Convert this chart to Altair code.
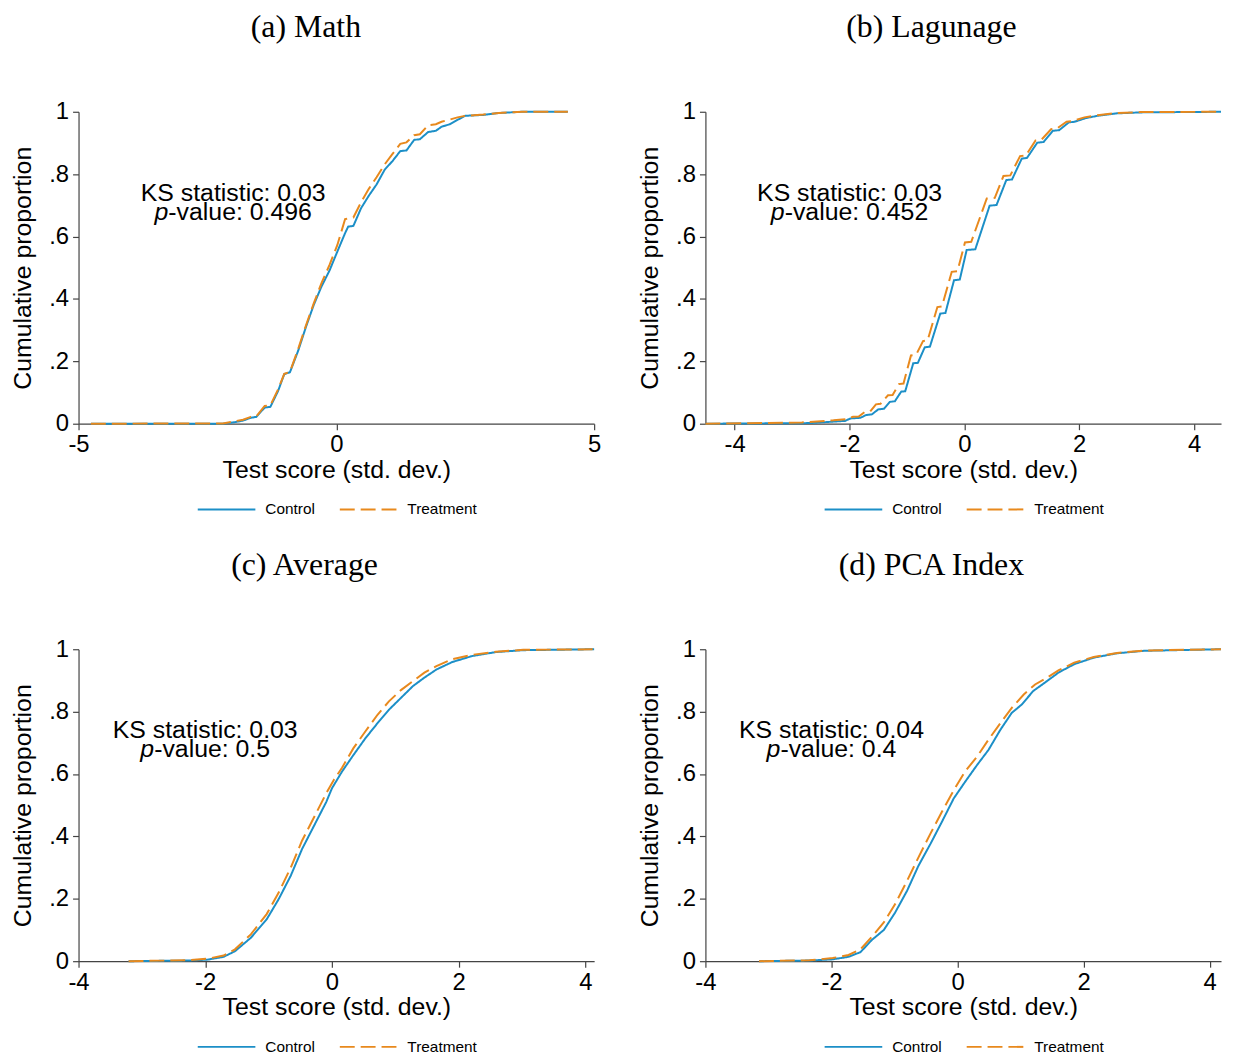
import altair as alt
import pandas as pd

# ---------------- data ----------------
TITLES = ["(a) Math", "(b) Lagunage", "(c) Average", "(d) PCA Index"]
KS_STAT = ["0.03", "0.03", "0.03", "0.04"]
P_VALUE = ["0.496", "0.452", "0.5", "0.4"]
GROUPS = ["Control", "Treatment"]
COLORS = ["#1c8fc7", "#e8891d"]

X_DOMAINS = [[-5, 5], [-4.51, 4.47], [-4, 4.14], [-4, 4.18]]
X_TICKS = [[-5, 0, 5], [-4, -2, 0, 2, 4], [-4, -2, 0, 2, 4], [-4, -2, 0, 2, 4]]
Y_TICKS = [0, 0.2, 0.4, 0.6, 0.8, 1]

# (a) Math
math_ctrl_x = [-4.76, -2.20, -1.97, -1.81, -1.66, -1.55, -1.39, -1.28, -1.13, -1.01, -0.90, -0.74, -0.59, -0.44,
               -0.29, -0.13, 0.02, 0.17, 0.23, 0.33, 0.48, 0.63, 0.78, 0.94, 1.09, 1.24, 1.36, 1.51, 1.62, 1.78,
               1.93, 2.04, 2.20, 2.35, 2.50, 2.85, 3.15, 3.61, 4.49]
math_ctrl_y = [0.0, 0.0, 0.005, 0.010, 0.019, 0.022, 0.052, 0.054, 0.105, 0.159, 0.165, 0.234, 0.310, 0.380,
               0.439, 0.492, 0.552, 0.611, 0.632, 0.634, 0.691, 0.731, 0.767, 0.815, 0.842, 0.874, 0.876, 0.910,
               0.912, 0.935, 0.939, 0.952, 0.960, 0.974, 0.987, 0.990, 0.996, 1.0, 1.0]
math_trt_x = [-4.76, -2.20, -1.97, -1.81, -1.66, -1.55, -1.39, -1.28, -1.13, -1.01, -0.90, -0.74, -0.59, -0.44,
              -0.29, -0.13, 0.02, 0.17, 0.33, 0.48, 0.63, 0.78, 0.94, 1.09, 1.24, 1.36, 1.51, 1.62, 1.78, 1.93,
              2.04, 2.20, 2.35, 2.50, 2.85, 3.15, 3.61, 4.49]
math_trt_y = [0.0, 0.001, 0.008, 0.013, 0.022, 0.024, 0.057, 0.059, 0.110, 0.160, 0.166, 0.240, 0.315, 0.385,
              0.450, 0.510, 0.573, 0.656, 0.661, 0.710, 0.753, 0.790, 0.832, 0.865, 0.897, 0.902, 0.925, 0.928,
              0.957, 0.960, 0.968, 0.975, 0.982, 0.987, 0.991, 0.996, 1.0, 1.0]

# (b) Language
lang_ctrl_x = [-4.51, -2.69, -2.08, -1.98, -1.81, -1.71, -1.61, -1.50, -1.40, -1.30, -1.21, -1.10, -1.03, -0.89,
               -0.81, -0.69, -0.60, -0.42, -0.33, -0.18, -0.08, 0.04, 0.19, 0.44, 0.56, 0.73, 0.83, 1.00, 1.09,
               1.27, 1.38, 1.54, 1.65, 1.82, 1.92, 2.12, 2.32, 2.66, 3.07, 4.47]
lang_ctrl_y = [0.0, 0.002, 0.009, 0.017, 0.019, 0.028, 0.030, 0.046, 0.048, 0.070, 0.072, 0.103, 0.104, 0.194,
               0.195, 0.245, 0.247, 0.353, 0.355, 0.460, 0.462, 0.557, 0.559, 0.699, 0.701, 0.781, 0.783, 0.850,
               0.852, 0.901, 0.903, 0.939, 0.941, 0.966, 0.968, 0.980, 0.987, 0.995, 0.998, 1.0]
lang_trt_x = [-4.51, -2.83, -2.28, -2.05, -1.94, -1.84, -1.74, -1.64, -1.54, -1.46, -1.33, -1.25, -1.14, -1.06,
              -0.93, -0.84, -0.72, -0.64, -0.47, -0.39, -0.22, -0.12, 0.01, 0.12, 0.39, 0.53, 0.68, 0.80, 0.97,
              1.07, 1.24, 1.34, 1.51, 1.61, 1.78, 1.88, 2.09, 2.32, 2.66, 3.07, 4.47]
lang_trt_y = [0.0, 0.004, 0.011, 0.015, 0.022, 0.023, 0.037, 0.039, 0.062, 0.064, 0.091, 0.092, 0.127, 0.129,
              0.219, 0.221, 0.265, 0.267, 0.374, 0.376, 0.487, 0.489, 0.581, 0.583, 0.722, 0.724, 0.794, 0.796,
              0.858, 0.860, 0.908, 0.910, 0.944, 0.946, 0.968, 0.970, 0.982, 0.989, 0.996, 0.999, 1.0]

# (c) Average
avg_ctrl_x = [-3.21, -2.27, -1.96, -1.71, -1.53, -1.28, -1.03, -0.84, -0.65, -0.47, -0.28, -0.09, 0.00, 0.16,
              0.34, 0.53, 0.72, 0.90, 1.09, 1.28, 1.46, 1.65, 1.90, 2.21, 2.59, 3.02, 4.14]
avg_ctrl_y = [0.0, 0.002, 0.005, 0.014, 0.032, 0.075, 0.134, 0.199, 0.274, 0.360, 0.435, 0.510, 0.554, 0.608,
              0.661, 0.715, 0.763, 0.806, 0.844, 0.882, 0.909, 0.935, 0.959, 0.978, 0.991, 0.997, 1.0]
avg_trt_x = [-3.21, -2.27, -1.96, -1.71, -1.53, -1.28, -1.03, -0.84, -0.65, -0.47, -0.28, -0.09, 0.03, 0.16,
             0.34, 0.53, 0.72, 0.90, 1.09, 1.28, 1.46, 1.65, 1.90, 2.21, 2.59, 3.02, 4.14]
avg_trt_y = [0.0, 0.003, 0.008, 0.018, 0.038, 0.086, 0.151, 0.220, 0.300, 0.387, 0.462, 0.538, 0.581, 0.620,
             0.683, 0.737, 0.790, 0.833, 0.869, 0.898, 0.925, 0.946, 0.968, 0.982, 0.992, 0.998, 1.0]

# (d) PCA index
pca_ctrl_x = [-3.15, -2.35, -1.98, -1.73, -1.54, -1.36, -1.17, -0.99, -0.80, -0.62, -0.43, -0.25, -0.06, 0.12,
              0.31, 0.49, 0.68, 0.86, 1.02, 1.20, 1.42, 1.60, 1.85, 2.16, 2.53, 2.96, 4.18]
pca_ctrl_y = [0.0, 0.002, 0.006, 0.014, 0.029, 0.068, 0.100, 0.156, 0.226, 0.306, 0.376, 0.446, 0.522, 0.575,
              0.629, 0.677, 0.742, 0.796, 0.823, 0.866, 0.898, 0.925, 0.952, 0.973, 0.987, 0.995, 1.0]
pca_trt_x = [-3.15, -2.35, -1.98, -1.73, -1.54, -1.36, -1.17, -0.99, -0.80, -0.62, -0.43, -0.25, -0.06, 0.12,
             0.31, 0.49, 0.68, 0.86, 1.05, 1.23, 1.42, 1.60, 1.85, 2.16, 2.53, 2.96, 4.18]
pca_trt_y = [0.0, 0.003, 0.010, 0.020, 0.038, 0.078, 0.124, 0.183, 0.258, 0.333, 0.409, 0.478, 0.548, 0.608,
             0.656, 0.710, 0.763, 0.812, 0.855, 0.887, 0.909, 0.932, 0.957, 0.975, 0.988, 0.996, 1.0]

SERIES = [
    (math_ctrl_x, math_ctrl_y, math_trt_x, math_trt_y),
    (lang_ctrl_x, lang_ctrl_y, lang_trt_x, lang_trt_y),
    (avg_ctrl_x, avg_ctrl_y, avg_trt_x, avg_trt_y),
    (pca_ctrl_x, pca_ctrl_y, pca_trt_x, pca_trt_y),
]

# annotation anchor (data units) shared by all panels
ANN_X = -2
ANN_Y1 = 0.74
ANN_Y2 = 0.68

# ---------------- styling ----------------
SANS = "Liberation Sans"
SERIF = "Liberation Serif"
FS = 24        # tick labels
FS_T = 25      # axis titles
FS_A = 25      # annotation
PW, PH = 519, 314

# Arial advance widths (per 1000 em) for the annotation's characters
AW = {"p": 556, "-": 333, "v": 500, "a": 556, "l": 222, "u": 556, "e": 556, ":": 278, " ": 278, ".": 278}
for d in "0123456789":
    AW[d] = 556


def text_w(s, size=FS_A):
    return sum(AW.get(c, 556) for c in s) * size / 1000.0


X_LABEL_EXPR = "datum.value < 0 ? '-' + format(-datum.value, 'd') : format(datum.value, 'd')"
Y_LABEL_EXPR = ("datum.value == 0 ? '0' : datum.value == 1 ? '1' : "
                "replace(format(datum.value, '.1f'), '0.', '.')")


def panel(i):
    cx, cy, tx, ty = SERIES[i]
    df = pd.DataFrame({
        "x": list(cx) + list(tx),
        "y": list(cy) + list(ty),
        "group": [GROUPS[0]] * len(cx) + [GROUPS[1]] * len(tx),
    })
    leg = alt.Legend(
        title=None, orient="none", legendX=119, legendY=370, direction="horizontal",
        symbolType="stroke", symbolSize=3364, symbolStrokeWidth=2, symbolOpacity=1,
        labelFont=SANS, labelFontSize=15.5, labelColor="black", labelOffset=9,
        columnPadding=21, padding=0,
    )
    line = alt.Chart(df).mark_line(strokeWidth=2).encode(
        x=alt.X("x:Q",
                scale=alt.Scale(domain=X_DOMAINS[i], nice=False, zero=False),
                axis=alt.Axis(values=X_TICKS[i], title="Test score (std. dev.)", labelExpr=X_LABEL_EXPR,
                              labelPadding=3, titlePadding=1, labelFlush=False)),
        y=alt.Y("y:Q",
                scale=alt.Scale(domain=[0, 1], nice=False, zero=False),
                axis=alt.Axis(values=Y_TICKS, title="Cumulative proportion", labelExpr=Y_LABEL_EXPR,
                              labelPadding=4, titlePadding=13)),
        color=alt.Color("group:N", scale=alt.Scale(domain=GROUPS, range=COLORS), legend=leg),
        strokeDash=alt.StrokeDash("group:N", scale=alt.Scale(domain=GROUPS, range=[[1, 0], [15, 6]]), legend=leg),
    )

    ann1 = alt.Chart(pd.DataFrame({"x": [ANN_X], "y": [ANN_Y1], "t": ["KS statistic: " + KS_STAT[i]]})).mark_text(
        font=SANS, fontSize=FS_A, align="center", baseline="middle", color="black"
    ).encode(x="x:Q", y="y:Q", text="t:N")

    rest = "-value: " + P_VALUE[i]
    total = text_w("p") + text_w(rest)
    split = -total / 2 + text_w("p")
    ann_p = alt.Chart(pd.DataFrame({"x": [ANN_X], "y": [ANN_Y2], "t": ["p"]})).mark_text(
        font=SANS, fontSize=FS_A, fontStyle="italic", align="right", baseline="middle", color="black", dx=split
    ).encode(x="x:Q", y="y:Q", text="t:N")
    ann_rest = alt.Chart(pd.DataFrame({"x": [ANN_X], "y": [ANN_Y2], "t": [rest]})).mark_text(
        font=SANS, fontSize=FS_A, align="left", baseline="middle", color="black", dx=split
    ).encode(x="x:Q", y="y:Q", text="t:N")

    return alt.layer(line, ann1, ann_p, ann_rest).properties(
        width=PW, height=PH,
        title=alt.TitleParams(TITLES[i], font=SERIF, fontSize=32, fontWeight="normal", color="black",
                              anchor="middle", frame="bounds", offset=56),
    )


chart = alt.concat(
    panel(0), panel(1), panel(2), panel(3),
    columns=2, spacing={"row": 227, "column": 112}, bounds="flush",
).resolve_scale(
    color="independent", strokeDash="independent"
).properties(
    padding={"left": 2, "top": 0, "right": 0, "bottom": 0},
    background="white",
).configure_view(stroke=None).configure_axis(
    grid=False, domainColor="#444", tickColor="#444", domainWidth=1.2, tickWidth=1.2, tickSize=6,
    labelFont=SANS, labelFontSize=FS, labelColor="black",
    titleFont=SANS, titleFontSize=FS_T, titleFontWeight="normal", titleColor="black",
)

chart.save("out.html", embed_options={"renderer": "svg", "actions": False})
